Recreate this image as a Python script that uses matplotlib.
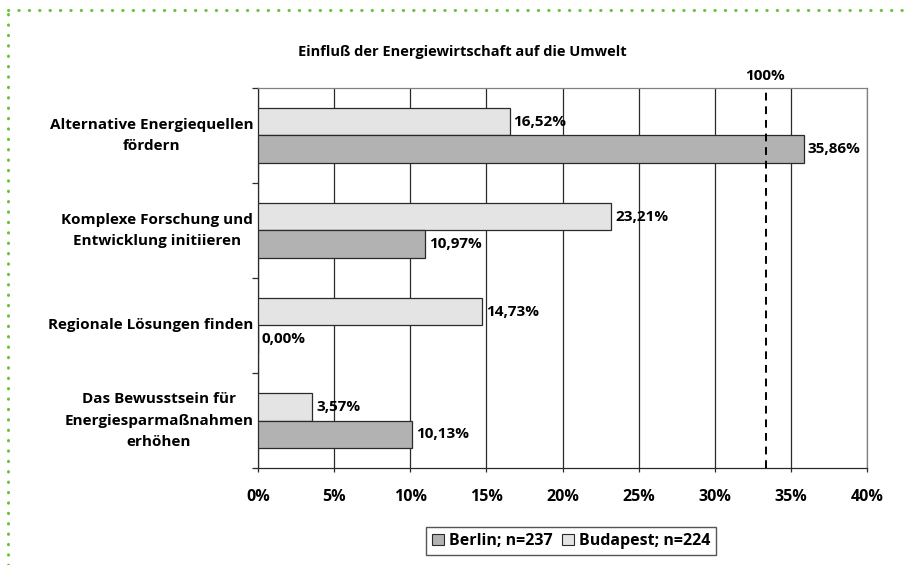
import matplotlib.pyplot as plt
from matplotlib.lines import Line2D

categories = ['Alternative Energiequellen\nfördern',
              'Komplexe Forschung und\nEntwicklung initiieren',
              'Regionale Lösungen finden',
              'Das Bewusstsein für\nEnergiesparmaßnahmen\nerhöhen']
berlin = [35.86, 10.97, 0.00, 10.13]
budapest = [16.52, 23.21, 14.73, 3.57]
series_names = ['Berlin; n=237', 'Budapest; n=224']
ref_line = 100 / 3
xticks = [0, 5, 10, 15, 20, 25, 30, 35, 40]

plt.rcParams['font.family'] = ['Open Sans', 'DejaVu Sans']
plt.rcParams['font.weight'] = 'bold'

fig = plt.figure(figsize=(9.08, 5.65), dpi=100)
ax = fig.add_axes([258 / 908, 97 / 565, 609 / 908, 380 / 565])

h = 0.285
ypos = list(range(len(categories)))
ax.barh([y - h / 2 for y in ypos], budapest, height=h, color='#e3e4e3',
        edgecolor='#2a2a2a', linewidth=0.9, label=series_names[1], zorder=3)
ax.barh([y + h / 2 for y in ypos], berlin, height=h, color='#b2b2b2',
        edgecolor='#2a2a2a', linewidth=0.9, label=series_names[0], zorder=3)

for y, v in zip(ypos, budapest):
    ax.text(v + 0.25, y - h / 2, f'{v:.2f}%'.replace('.', ','), va='center',
            ha='left', fontsize=11, fontweight='bold', zorder=4)
for y, v in zip(ypos, berlin):
    ax.text(v + 0.25, y + h / 2, f'{v:.2f}%'.replace('.', ','), va='center',
            ha='left', fontsize=11, fontweight='bold', zorder=4)

ax.axvline(ref_line, color='black', linestyle=(0, (4, 3)), linewidth=1.4, zorder=4)
ax.text(ref_line, -0.55, '100%', ha='center', va='bottom', fontsize=11,
        fontweight='bold')

ax.set_xlim(0, 40)
ax.set_ylim(3.5, -0.5)
ax.set_xticks(xticks)
ax.set_xticklabels([f'{t}%' for t in xticks], fontsize=11.5, fontweight='bold')
ax.tick_params(axis='x', length=3, direction='out', width=0.9, color='#2a2a2a', pad=12)
ax.set_yticks([-0.5, 0.5, 1.5, 2.5, 3.5])
ax.set_yticklabels([])
ax.tick_params(axis='y', length=4, direction='out', width=0.9, color='#2a2a2a')
ax.grid(axis='x', color='#2a2a2a', linewidth=0.9, zorder=0)

for y, c in zip(ypos, categories):
    ax.text(-0.008, y, c, transform=ax.get_yaxis_transform(), ha='right',
            va='center', multialignment='center', fontsize=11, fontweight='bold',
            linespacing=1.65)

ax.spines['top'].set_color('#808080')
ax.spines['right'].set_color('#808080')
ax.spines['left'].set_color('#2a2a2a')
ax.spines['bottom'].set_color('#2a2a2a')
for s in ax.spines.values():
    s.set_linewidth(0.9)

fig.text(462 / 908, 1 - 52 / 565, 'Einfluß der Energiewirtschaft auf die Umwelt',
         ha='center', va='center', fontsize=10.5, fontweight='bold')

handles = [
    plt.Rectangle((0, 0), 1, 1, facecolor='#b2b2b2', edgecolor='#2a2a2a', linewidth=0.8),
    plt.Rectangle((0, 0), 1, 1, facecolor='#e3e4e3', edgecolor='#2a2a2a', linewidth=0.8),
]
fig.legend(handles, series_names, loc='center', bbox_to_anchor=(571 / 908, 1 - 541 / 565),
           ncol=2, frameon=True, fancybox=False, edgecolor='#2a2a2a',
           handlelength=0.75, handleheight=0.75, handletextpad=0.3, columnspacing=0.6,
           borderpad=0.35, prop={'weight': 'bold', 'size': 11.5})

# dotted green frame
green = '#6cbf3c'
fig.add_artist(Line2D([8 / 908, 1], [1 - 10 / 565, 1 - 10 / 565], transform=fig.transFigure,
                      color=green, linestyle=(0, (0.1, 3.3)), linewidth=2.2,
                      solid_capstyle='round', dash_capstyle='round'))
fig.add_artist(Line2D([8 / 908, 8 / 908], [0, 1 - 10 / 565], transform=fig.transFigure,
                      color=green, linestyle=(0, (0.1, 3.3)), linewidth=2.2,
                      solid_capstyle='round', dash_capstyle='round'))

fig.savefig('out.png', dpi=100)
